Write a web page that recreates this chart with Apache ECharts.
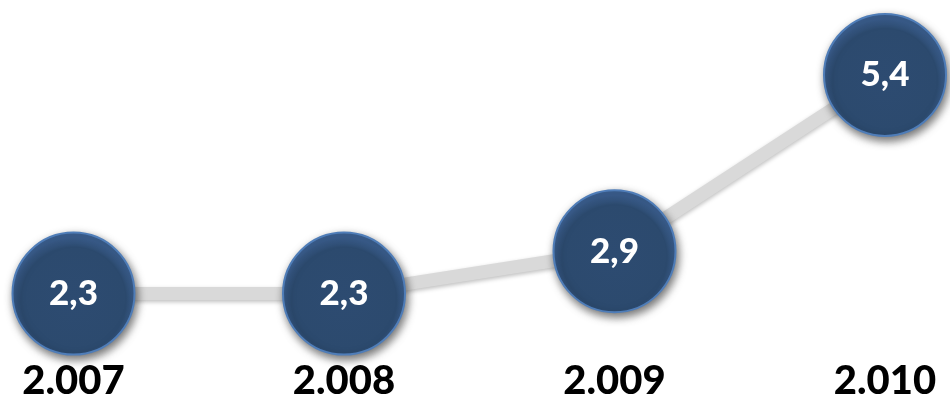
<!DOCTYPE html>
<html>
<head>
<meta charset="utf-8">
<style>
html,body{margin:0;padding:0;background:#fff;}
#chart{width:950px;height:401px;}
</style>
<script src="https://cdn.jsdelivr.net/npm/echarts@6/dist/echarts.min.js"></script>
</head>
<body>
<div id="chart"></div>
<script>
var categories = ['2.007', '2.008', '2.009', '2.010'];
var values = [2.3, 2.3, 2.9, 5.4];
var valueLabels = ['2,3', '2,3', '2,9', '5,4'];

var chart = echarts.init(document.getElementById('chart'));
chart.setOption({
  animation: false,
  backgroundColor: '#ffffff',
  grid: { left: 73.5, right: 65, top: 32.6, bottom: 50.5 },
  xAxis: {
    type: 'category',
    data: categories,
    boundaryGap: false,
    axisLine: { show: false },
    axisTick: { show: false },
    splitLine: { show: false },
    axisLabel: {
      margin: 31,
      verticalAlign: 'middle',
      fontFamily: 'Lato',
      fontWeight: 900,
      fontSize: 40,
      color: '#000000'
    }
  },
  yAxis: { type: 'value', min: 1.5, max: 6, show: false },
  series: [{
    type: 'line',
    data: values,
    symbol: 'circle',
    symbolSize: 122,
    lineStyle: {
      color: '#d9d9d9',
      width: 13,
      shadowColor: 'rgba(0,0,0,0.25)',
      shadowBlur: 4,
      shadowOffsetY: 2
    },
    itemStyle: {
      color: {
        type: 'radial', x: 0.5, y: 0.55, r: 0.5,
        colorStops: [
          { offset: 0, color: '#2d4b71' },
          { offset: 0.85, color: '#2c4a6e' },
          { offset: 1, color: '#3d6294' }
        ]
      },
      borderColor: '#4f7db8',
      borderWidth: 2,
      shadowColor: 'rgba(0,0,0,0.55)',
      shadowBlur: 8,
      shadowOffsetX: 2,
      shadowOffsetY: 4
    },
    label: {
      show: true,
      position: 'inside',
      formatter: function (p) { return valueLabels[p.dataIndex]; },
      color: '#ffffff',
      fontFamily: 'Lato',
      fontWeight: 900,
      fontSize: 35
    },
    emphasis: { disabled: true },
    z: 2
  }]
});
</script>
</body>
</html>
